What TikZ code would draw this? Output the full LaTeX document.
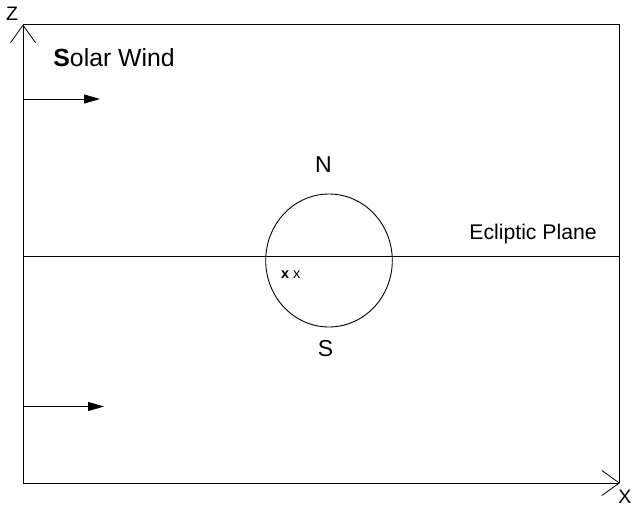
\documentclass[tikz,border=0pt]{standalone}
\usepackage{fontspec}
\setmainfont{Liberation Sans}
\usetikzlibrary{arrows.meta,shapes.geometric}
\begin{document}
\begin{tikzpicture}[x=1pt,y=-1pt,
  line width=0.9pt,
  axisline/.style={line width=0.9pt,-{Straight Barb[length=17.5pt,width=25pt,line width=0.8pt]}},
  windarrow/.style={line width=0.9pt,-{Triangle[length=16pt,width=9pt]}},
  lbl/.style={inner sep=0pt,font=\fontsize{23}{26}\selectfont},
  small/.style={inner sep=0pt,font=\fontsize{19.5}{22}\selectfont}]
\useasboundingbox (0,0) rectangle (632,506);
% frame corners
\coordinate (tl) at (23,24.5);
\coordinate (tr) at (619.5,24.5);
\coordinate (br) at (619.5,483);
\coordinate (bl) at (23,483);
\coordinate (xtip) at (620,483);
% frame and axes
\draw (tl) -- (tr) -- (br);
\draw[axisline] (bl) -- (tl);
\draw[axisline] (bl) -- (xtip);
\node[small,anchor=base] (zlab) at (12,20) {Z};
\node[small,anchor=base west] (xlab) at (618,503) {X};
% ecliptic plane
\coordinate (el) at (23,256.7);
\coordinate (er) at (619.5,256.7);
\draw (el) -- (er);
\node[lbl,font=\fontsize{21.2}{24}\selectfont,anchor=base west] (ecl) at (469,239.3) {Ecliptic Plane};
% earth
\node[draw,ellipse,minimum width=126.6pt,minimum height=133pt,inner sep=0pt] (earth) at (329,260.5) {};
\node[lbl,anchor=base] (n) at (323.5,172) {N};
\node[lbl,anchor=base] (s) at (325.5,356) {S};
\node[inner sep=0pt,anchor=base west,font=\fontsize{14.5}{16}\selectfont] (xx) at (280.7,278.3) {\textbf{x} x};
% solar wind
\node[lbl,font=\fontsize{24.8}{28}\selectfont,anchor=base west] (sw) at (53,66) {\textbf{S}olar Wind};
\coordinate (a1s) at (23,99);
\coordinate (a1e) at (100,99);
\coordinate (a2s) at (23,406.5);
\coordinate (a2e) at (104,406.5);
\draw[windarrow] (a1s) -- (a1e);
\draw[windarrow] (a2s) -- (a2e);
\end{tikzpicture}
\end{document}
